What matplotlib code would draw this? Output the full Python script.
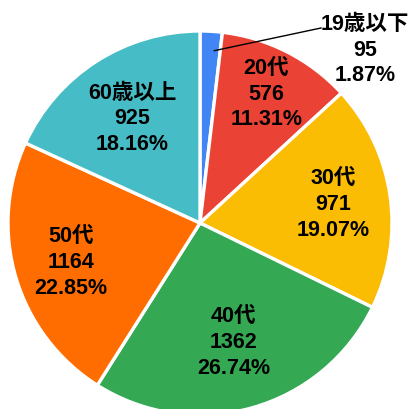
import numpy as np
import matplotlib
matplotlib.use("Agg")
from matplotlib import pyplot as plt

#%% data
labels = ['19歳以下', '20代', '30代', '40代', '50代', '60歳以上']
counts = [95, 576, 971, 1362, 1164, 925]
colors = ['#4285F4', '#EA4335', '#FBBC04', '#34A853', '#FF6D01', '#46BDC6']

total = sum(counts)
pcts = [c / total * 100 for c in counts]

#%% figure in pixel coords (y up)
W, H = 411, 410
fig = plt.figure(figsize=(W / 100, H / 100), dpi=100)
ax = fig.add_axes([0, 0, 1, 1])

cx, cy, R = 200, H - 224, 192
wedges, _ = ax.pie(counts, colors=colors, startangle=90, counterclock=False,
                   center=(cx, cy), radius=R, frame=True,
                   wedgeprops=dict(edgecolor='white', linewidth=2.4))
ax.set_xlim(0, W)
ax.set_ylim(0, H)
ax.axis('off')

font = dict(family=['Liberation Sans', 'Noto Sans CJK JP'], fontsize=15.5,
            fontweight='bold', ha='center', va='center', linespacing=1.3)

# label distance from centre as fraction of radius (slice 0 is outside)
dist = [None, 0.76, 0.70, 0.64, 0.70, 0.65]

for i, w in enumerate(wedges):
    txt = '%s\n%d\n%.2f%%' % (labels[i], counts[i], pcts[i])
    ang = np.radians((w.theta1 + w.theta2) / 2)
    if dist[i] is None:
        # outside label with leader line
        px, py = cx + 0.92 * R * np.cos(ang) + 4, cy + 0.92 * R * np.sin(ang) - 4
        ax.plot([px, 321], [py, H - 29], color='black', lw=1)
        ax.text(365, H - 50, txt, **font)
    else:
        d = dist[i] * R
        ax.text(cx + d * np.cos(ang), cy + d * np.sin(ang), txt, **font)

fig.savefig('out.png', dpi=100)
